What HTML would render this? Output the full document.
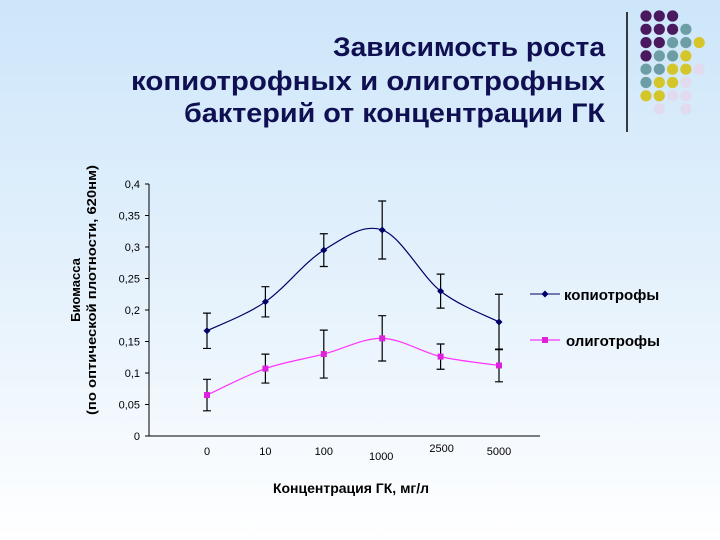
<!DOCTYPE html>
<html><head><meta charset="utf-8"><style>
html,body{margin:0;padding:0;width:720px;height:540px;overflow:hidden}
svg{display:block}
</style></head><body>
<svg id="chart" width="720" height="540" viewBox="0 0 720 540" xmlns="http://www.w3.org/2000/svg" font-family="Liberation Sans, DejaVu Sans, sans-serif">
<defs><linearGradient id="bg" x1="0" y1="0" x2="0" y2="1"><stop offset="0" stop-color="#cde6fa"/><stop offset="0.55" stop-color="#e6f2fc"/><stop offset="1" stop-color="#ffffff"/></linearGradient></defs>
<rect width="720" height="540" fill="url(#bg)"/>
<g fill="#0f0f52" font-weight="bold" font-size="27" text-anchor="end">
<text x="605" y="56" textLength="272" lengthAdjust="spacingAndGlyphs">Зависимость роста</text>
<text x="605" y="90" textLength="474" lengthAdjust="spacingAndGlyphs">копиотрофных и олиготрофных</text>
<text x="605" y="122" textLength="421" lengthAdjust="spacingAndGlyphs">бактерий от концентрации ГК</text>
</g>
<line x1="627" y1="12" x2="627" y2="132" stroke="#000" stroke-width="1.5"/>
<g id="dots"></g>
<g fill="#000" font-weight="bold" font-size="13" text-anchor="middle">
<text transform="translate(80,290) rotate(-90)">Биомасса</text>
<text transform="translate(96,290) rotate(-90)" textLength="250" lengthAdjust="spacingAndGlyphs">(по оптической плотности, 620нм)</text>
</g>
<text x="351" y="493" text-anchor="middle" font-weight="bold" font-size="14">Концентрация ГК, мг/л</text>
<g id="axes"></g>
<g id="series"></g>
<g>
<g>
<line x1="530" y1="294" x2="560" y2="294" stroke="#000066" stroke-width="1"/><path d="M545 290.5L548.5 294L545 297.5L541.5 294Z" fill="#000066"/>
<text x="564" y="300" font-weight="bold" font-size="15">копиотрофы</text></g>
<g>
<line x1="530" y1="340" x2="560" y2="340" stroke="#ff00ff" stroke-width="1"/><rect x="542" y="337" width="6" height="6" fill="#dd22dd"/>
<text x="566" y="346" font-weight="bold" font-size="15">олиготрофы</text></g>
</g>
</svg>
<script>
const categories=["0","10","100","1000","2500","5000"];
const yTicks=[0,0.05,0.1,0.15,0.2,0.25,0.3,0.35,0.4];
const yTickLabels=["0","0,05","0,1","0,15","0,2","0,25","0,3","0,35","0,4"];
const copioValues=[0.167,0.213,0.295,0.327,0.23,0.181];
const copioErrors=[0.028,0.024,0.026,0.046,0.027,0.044];
const oligoValues=[0.065,0.107,0.13,0.155,0.126,0.112];
const oligoErrors=[0.025,0.023,0.038,0.036,0.02,0.026];
const NS="http://www.w3.org/2000/svg";
function el(t,a,p){const e=document.createElementNS(NS,t);for(const k in a)e.setAttribute(k,a[k]);p.appendChild(e);return e;}
const X=i=>207+i*58.4;
const Y=v=>436-v*630;
const axes=document.getElementById('axes');
const ya=el('line',{x1:149,y1:Y(0.4),x2:149,y2:436,stroke:'#000'},axes);


const xa=el('line',{x1:149,y1:436,x2:540,y2:436,stroke:'#000'},axes);


yTicks.forEach((v,i)=>{
  el('line',{x1:145,y1:Y(v),x2:149,y2:Y(v),stroke:'#000'},axes);
  const t=el('text',{x:140,y:Y(v)+4,'text-anchor':'end','font-size':11,fill:'#000'},axes);
  t.textContent=yTickLabels[i];
  
  
});
categories.forEach((c,i)=>{
  const t=el('text',{x:X(i)+(i==3?-1:i==4?1:0),y:i==3?460:i==4?452:455,'text-anchor':'middle','font-size':11,fill:'#000'},axes);
  t.textContent=c;
  
  
});
function smooth(pts){let d=`M${pts[0][0]},${pts[0][1]}`;for(let i=0;i<pts.length-1;i++){const p0=pts[i-1]||pts[i],p1=pts[i],p2=pts[i+1],p3=pts[i+2]||p2;
 d+=` C${p1[0]+(p2[0]-p0[0])/6},${p1[1]+(p2[1]-p0[1])/6} ${p2[0]-(p3[0]-p1[0])/6},${p2[1]-(p3[1]-p1[1])/6} ${p2[0]},${p2[1]}`;}return d;}
const sg=document.getElementById('series');
function series(vals,errs,color,mcolor,name,sq){
  const g=el('g',{},sg);
  
  
  const pts=vals.map((v,i)=>[X(i),Y(v)]);
  el('path',{d:smooth(pts),fill:'none',stroke:color,'stroke-width':1.2},g);
  vals.forEach((v,i)=>{
    const x=X(i),t=Y(v+errs[i]),b=Y(v-errs[i]);
    const eb=el('path',{d:`M${x},${t}V${b}M${x-4},${t}H${x+4}M${x-4},${b}H${x+4}`,stroke:'#000','stroke-width':1.2,fill:'none'},g);
    
    
    let m;
    if(sq) m=el('rect',{x:x-3,y:Y(v)-3,width:6,height:6,fill:mcolor},g);
    else m=el('path',{d:`M${x},${Y(v)-3.5}L${x+3.5},${Y(v)}L${x},${Y(v)+3.5}L${x-3.5},${Y(v)}Z`,fill:mcolor},g);
    
    
  });
}
series(copioValues,copioErrors,'#000066','#000066','series-copiotrophs',false);
series(oligoValues,oligoErrors,'#ff33ff','#dd22dd','series-oligotrophs',true);
// decorative dots
const P='#4b1a5e',T='#6e9ea5',Yl='#d4c62a',L='#e2daee';
const rows=[[P,P,P],[P,P,P,T],[P,P,T,T,Yl],[P,T,T,Yl],[T,T,Yl,Yl,L],[T,Yl,Yl,L],[Yl,Yl,L,L],[null,L,null,L]];
const dg=document.getElementById('dots');
rows.forEach((r,ri)=>r.forEach((c,ci)=>{if(!c)return;const d=el('circle',{cx:646+ci*13.3,cy:16+ri*13.3,r:5.6,fill:c},dg);
 
 }));
</script>
</body></html>
